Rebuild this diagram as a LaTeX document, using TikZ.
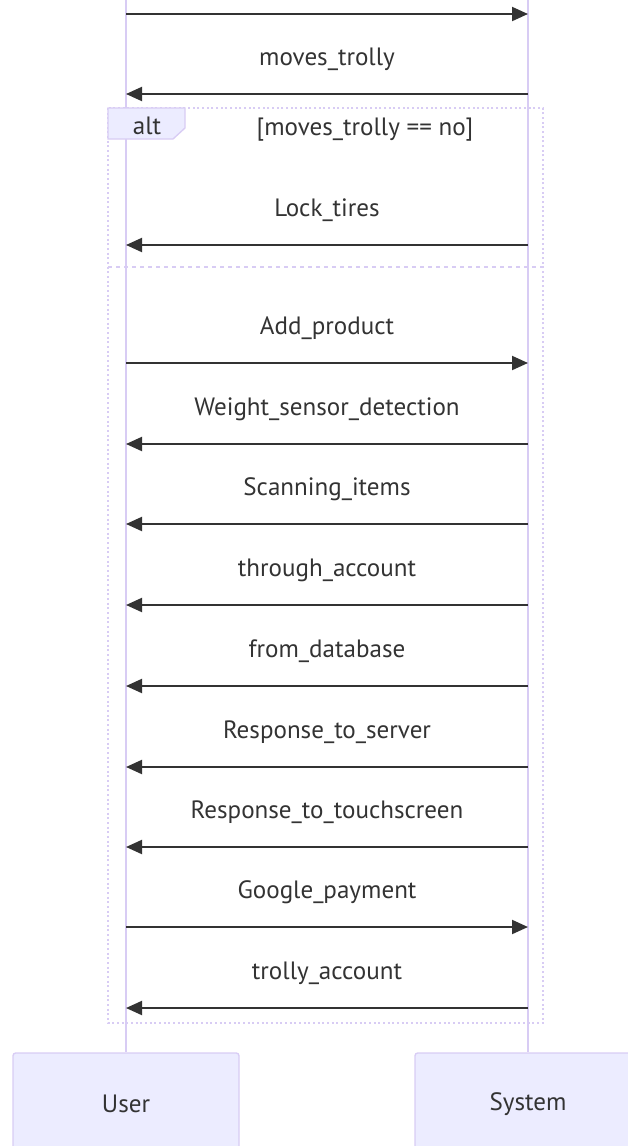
\documentclass[tikz,border=0pt]{standalone}
\usepackage{fontspec}
\setmainfont{PT Sans}
\usetikzlibrary{arrows.meta}
\definecolor{actorfill}{HTML}{ECECFF}
\definecolor{actorline}{HTML}{D8CCF4}
\definecolor{msgcol}{HTML}{333333}
\tikzset{
  lifeline/.style={draw=actorline, line width=1.5pt},
  msg/.style={draw=msgcol, line width=1.5pt, -{Triangle[length=12pt,width=10.5pt]}},
  msglabel/.style={text=msgcol, anchor=base, inner sep=0pt, font=\fontsize{18.8}{22}\selectfont},
  actorbox/.style={draw=actorline, fill=actorfill, rounded corners=2pt, line width=1pt,
    minimum width=169.5pt, minimum height=76.5pt, text=msgcol, font=\fontsize{18.8}{22}\selectfont},
  altframe/.style={draw=actorline, line width=1.5pt, dotted},
  altsep/.style={draw=actorline, line width=1.5pt, dash pattern=on 3pt off 3pt},
  altlabel/.style={draw=actorline, fill=actorfill, line width=1pt}
}
\begin{document}
\begin{tikzpicture}[x=0.75pt, y=-0.75pt]
\useasboundingbox (0,0) rectangle (628,1146);
\pgfmathsetmacro{\xu}{126}
\pgfmathsetmacro{\xs}{528}
\pgfmathsetmacro{\xm}{(\xu+\xs)/2}

% lifelines
\coordinate (utop) at (\xu,0);
\coordinate (stop) at (\xs,0);
\node[actorbox] (user) at (\xu,1104) {User};
\node[actorbox] (system) at (\xs,1104) {System};
\draw[lifeline] (utop) -- (user.north);
\draw[lifeline] (stop) -- (system.north);

% alt fragment
\coordinate (altnw) at (108,108);
\coordinate (altse) at (543,1023);
\coordinate (altsepw) at (108,267);
\coordinate (altsepe) at (543,267);
\draw[altframe] (altnw) rectangle (altse);
\draw[altsep] (altsepw) -- (altsepe);
\draw[altlabel] (altnw) -- ++(77,0) -- ++(0,20) -- ++(-12,11) -- ++(-65,0) -- cycle;
\node[msglabel] (alt) at (147,134) {alt};
\node[msglabel] (cond) at (365,135) {[moves\_trolly == no]};

% messages User -> System
\foreach \y/\txt [count=\i] in {14/{}, 363/Add\_product, 927/Google\_payment}{
  \coordinate (ru\i) at (\xu,\y);
  \coordinate (rs\i) at (\xs,\y);
  \node[msglabel] (rl\i) at (\xm,\y-29) {\txt};
  \draw[msg] (ru\i) -- (rs\i);
}

% messages System -> User
\foreach \y/\txt [count=\i] in {94/moves\_trolly, 245/Lock\_tires, 444/Weight\_sensor\_detection,
    524/Scanning\_items, 605/through\_account, 686/from\_database, 767/Response\_to\_server,
    847/Response\_to\_touchscreen, 1008/trolly\_account}{
  \coordinate (ls\i) at (\xs,\y);
  \coordinate (lu\i) at (\xu,\y);
  \node[msglabel] (ll\i) at (\xm,\y-29) {\txt};
  \draw[msg] (ls\i) -- (lu\i);
}
\end{tikzpicture}
\end{document}
